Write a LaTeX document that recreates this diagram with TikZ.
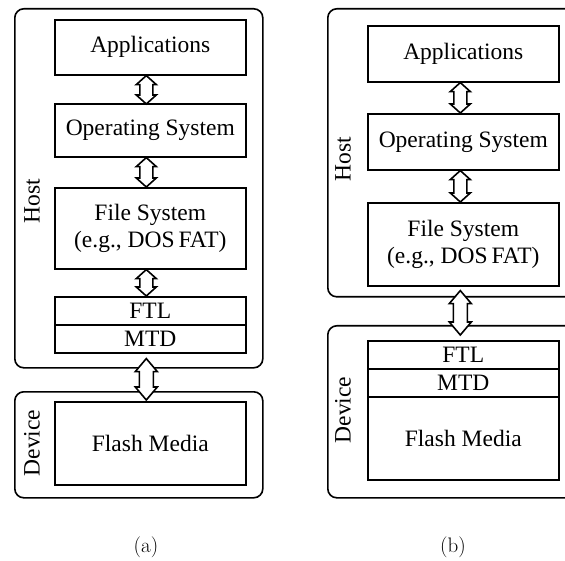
\documentclass[tikz,border=0pt]{standalone}
\usepackage{fontspec}
\newfontfamily\tnr{Liberation Serif}
\usetikzlibrary{calc}
\tikzset{
  lw/.style={line width=1.6pt},
  outerbox/.style={lw, draw, rounded corners=9pt, inner sep=0pt, anchor=north west},
  layerbox/.style={lw, draw, inner sep=0pt, anchor=north west, minimum width=191pt,
    align=center, font=\tnr\fontsize{23.5}{26.5}\selectfont},
  sidelabel/.style={rotate=90, inner sep=0pt, font=\tnr\fontsize{23.5}{26.5}\selectfont},
  caption/.style={inner sep=0pt, font=\fontsize{21}{24}\selectfont},
  dbarr/.style={lw, draw, fill=white, line join=miter},
}
% #1 top anchor, #2 bottom anchor, #3 head half width, #4 shaft half width,
% #5 head length, #6 x offset, #7 top y offset, #8 bottom y offset
\newcommand{\dbarrow}[8]{%
  \coordinate (T) at ($(#1)+(#6,#7)$);
  \coordinate (B) at ($(#2)+(#6,#8)$);
  \draw[dbarr] (T) -- ($(T)+(#3,#5)$) -- ($(T)+(#4,#5)$) -- ($(B)+(#4,-#5)$)
    -- ($(B)+(#3,-#5)$) -- (B) -- ($(B)+(-#3,-#5)$) -- ($(B)+(-#4,-#5)$)
    -- ($(T)+(-#4,#5)$) -- ($(T)+(-#3,#5)$) -- cycle;
}
\begin{document}
\begin{tikzpicture}[x=1pt, y=-1pt]
\useasboundingbox (0,0) rectangle (565,561);
\clip (0,0) rectangle (565,561);

% ---------- (a) ----------
\node[outerbox, minimum width=248pt, minimum height=359pt] (hostA) at (14,8) {};
\node[outerbox, minimum width=248pt, minimum height=106pt] (devA) at (14,391) {};
\node[layerbox, minimum height=55pt] (appA) at (54,19) {Applications};
\node[layerbox, minimum height=53pt] (osA) at (54,103) {Operating System};
\node[layerbox, minimum height=81pt] (fsA) at (54,187) {File System\\(e.g., DOS\,FAT)};
\node[layerbox, minimum height=28pt] (ftlA) at (54,296) {FTL};
\node[layerbox, minimum height=28pt] (mtdA) at (54,324) {MTD};
\node[layerbox, minimum height=83pt] (flashA) at (54,401) {Flash Media};
\node[sidelabel] (hostAl) at (32,201) {Host};
\node[sidelabel] (devAl) at (32,443) {Device};
\node[caption] (capA) at (146,547) {(a)};

\dbarrow{appA.south}{osA.north}{10}{6.5}{9}{-4}{0}{1}
\dbarrow{osA.south}{fsA.north}{10}{6.5}{9}{-4}{0}{0}
\dbarrow{fsA.south}{ftlA.north}{10}{6.5}{9}{-4}{0}{0}
\dbarrow{mtdA.south}{flashA.north}{11}{7}{13}{-4}{5}{-1}

% ---------- (b) ----------
\node[outerbox, minimum width=262pt, minimum height=288pt] (hostB) at (327,8) {};
\node[outerbox, minimum width=262pt, minimum height=172pt] (devB) at (327,325) {};
\node[layerbox, minimum height=56pt] (appB) at (367,25) {Applications};
\node[layerbox, minimum height=56pt] (osB) at (367,113) {Operating System};
\node[layerbox, minimum height=83pt] (fsB) at (367,202) {File System\\(e.g., DOS\,FAT)};
\node[layerbox, minimum height=28pt] (ftlB) at (367,340) {FTL};
\node[layerbox, minimum height=28pt] (mtdB) at (367,368) {MTD};
\node[layerbox, minimum height=83pt] (flashB) at (367,396) {Flash Media};
\node[sidelabel] (hostBl) at (343,159) {Host};
\node[sidelabel] (devBl) at (343,410) {Device};
\node[caption] (capB) at (453,547) {(b)};

\dbarrow{appB.south}{osB.north}{10}{6.5}{9}{-3}{0}{0}
\dbarrow{osB.south}{fsB.north}{10}{6.5}{9}{-3}{0}{0}
\dbarrow{fsB.south}{ftlB.north}{11}{7}{13}{-3}{4}{-5}
\end{tikzpicture}
\end{document}
